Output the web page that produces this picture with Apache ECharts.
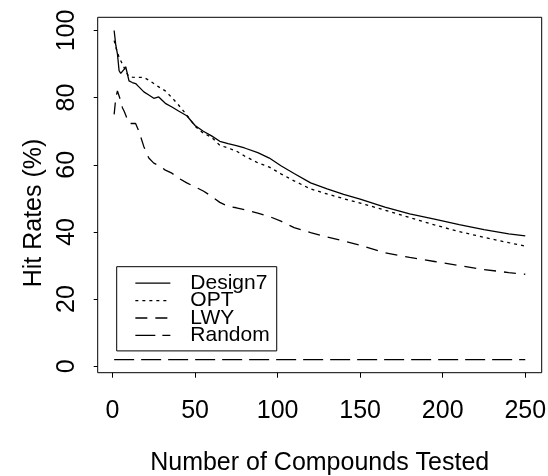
<!DOCTYPE html>
<html>
<head>
<meta charset="utf-8">
<script src="https://cdn.jsdelivr.net/npm/echarts@6/dist/echarts.min.js"></script>
<style>
html,body{margin:0;padding:0;background:#fff;}
#chart{width:548px;height:476px;}
</style>
</head>
<body>
<div id="chart"></div>
<script>
var seriesNames = ["Design7", "OPT", "LWY", "Random"];
var compounds = [1,2,3,4,5,6,7,8,9,10,11,12,14,16,19,22,25,28,32,36,40,45,50,55,60,65,70,75,80,88,95,102,110,120,130,140,150,165,180,195,210,225,240,250];
var design7 = [100,95.6,93,88,87.2,87.5,88.4,89.2,89.6,85,84.6,84.5,84.2,83.2,81.7,80.8,79.8,80.2,78.3,77.2,76,74.6,71.7,70.0,68.6,67.0,66.3,65.7,65.0,63.6,62.0,59.7,57.4,54.6,52.8,51.2,49.8,47.4,45.4,43.8,42.2,40.7,39.4,38.8];
var opt = [97,95,93.5,92,91,90,89,88,87,86.3,86.2,86.1,86,86,86,85.2,84.2,83.2,82,80,77.8,74.8,71.5,69.4,68.2,65.8,65,64.1,62.6,60.6,59.3,57.3,55.2,52.8,51.3,49.9,48.6,46.5,44.3,42.1,40.1,38.4,36.8,35.8];
var lwy = [75,80,82,80.5,79,77,76,74.8,73.5,72.3,72.1,72.3,72.3,70,65.4,62,60.5,59.8,58.4,57.5,56,54.6,53.4,52.2,50.6,48.8,47.6,47.2,46.6,45.6,44.6,43.2,41.3,39.8,38.5,37.3,36,33.8,32.4,31.2,30,28.8,27.9,27.4];
var randomX = [1, 250];
var randomY = [2, 2];
var xTicks = [0, 50, 100, 150, 200, 250];
var yTicks = [0, 20, 40, 60, 80, 100];

function pairs(xs, ys) { return xs.map(function (x, i) { return [x, ys[i]]; }); }

var FONT = '"Liberation Sans", Arial, Helvetica, sans-serif';
var chart = echarts.init(document.getElementById('chart'), null, {renderer: 'canvas'});

function lineSeries(name, data, dash) {
  return {
    name: name, type: 'line', data: data, symbol: 'none', silent: true,
    animation: false,
    lineStyle: {color: '#000', width: 1.3, type: dash},
    itemStyle: {color: '#000'}
  };
}

chart.setOption({
  animation: false,
  backgroundColor: '#fff',
  grid: {left: 97.7, top: 17.3, width: 444, height: 355.4, show: true, borderColor: '#000', borderWidth: 1, backgroundColor: 'transparent', containLabel: false, outerBoundsMode: 'none'},
  xAxis: {
    type: 'value', min: -8.96, max: 259.96,
    name: 'Number of Compounds Tested', nameLocation: 'middle', nameGap: 78,
    nameTextStyle: {fontFamily: FONT, fontSize: 25, color: '#000'},
    axisLine: {show: false, onZero: false},
    axisTick: {show: true, length: 5, lineStyle: {color: '#000', width: 1}, customValues: xTicks},
    axisLabel: {fontFamily: FONT, fontSize: 25, color: '#000', margin: 26, customValues: xTicks},
    splitLine: {show: false}
  },
  yAxis: {
    type: 'value', min: -1.92, max: 103.92,
    name: 'Hit Rates (%)', nameLocation: 'middle', nameGap: 30,
    nameTextStyle: {fontFamily: FONT, fontSize: 25, color: '#000', padding: [0, 36, 0, 0]},
    axisLine: {show: false, onZero: false},
    axisTick: {show: true, length: 4, lineStyle: {color: '#000', width: 1}, customValues: yTicks},
    axisLabel: {fontFamily: FONT, fontSize: 25, color: '#000', margin: 18, rotate: 90, customValues: yTicks},
    splitLine: {show: false}
  },
  legend: {
    orient: 'vertical', left: 116.7, top: 266.7,
    data: seriesNames,
    itemWidth: 35, itemHeight: 14, itemGap: -3.6,
    padding: [6, 7, 5, 18],
    borderColor: '#000', borderWidth: 1,
    selectedMode: false,
    itemStyle: {opacity: 0},
    lineStyle: {width: 1.3, color: '#000'},
    textStyle: {fontFamily: FONT, fontSize: 21, color: '#000', lineHeight: 17.4, padding: [0, 0, 0, 15]}
  },
  series: [
    lineSeries(seriesNames[0], pairs(compounds, design7), 'solid'),
    lineSeries(seriesNames[1], pairs(compounds, opt), [3, 4]),
    lineSeries(seriesNames[2], pairs(compounds, lwy), [12, 8]),
    lineSeries(seriesNames[3], pairs(randomX, randomY), [20, 7])
  ]
});
</script>
</body>
</html>
